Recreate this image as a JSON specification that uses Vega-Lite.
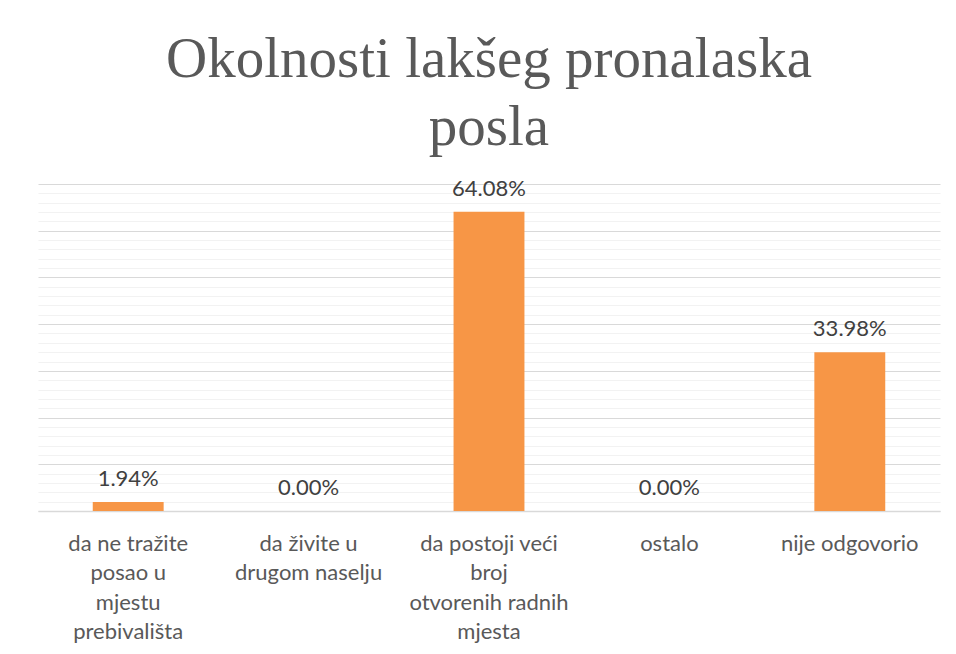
{
  "$schema": "https://vega.github.io/schema/vega-lite/v6.json",
  "width": 902,
  "height": 327,
  "autosize": {"type": "none"},
  "padding": {"left": 38, "top": 184, "right": 16, "bottom": 143},
  "background": "#ffffff",
  "title": {
    "text": ["Okolnosti lakšeg pronalaska", "posla"],
    "font": "Liberation Serif",
    "fontSize": 57,
    "fontWeight": "normal",
    "color": "#595959",
    "lineHeight": 68,
    "anchor": "middle",
    "frame": "group",
    "offset": 21
  },
  "data": {
    "values": [
      {"category": "da ne tražite posao u mjestu prebivališta", "value": 0.0194},
      {"category": "da živite u drugom naselju", "value": 0.0},
      {"category": "da postoji veći broj otvorenih radnih mjesta", "value": 0.6408},
      {"category": "ostalo", "value": 0.0},
      {"category": "nije odgovorio", "value": 0.3398}
    ]
  },
  "encoding": {
    "x": {
      "field": "category",
      "type": "nominal",
      "sort": null,
      "scale": {"paddingInner": 0.607, "paddingOuter": 0.3035},
      "axis": {
        "title": null,
        "labelAngle": 0,
        "labelFont": "Lato",
        "labelFontSize": 22,
        "labelColor": "#595959",
        "labelLineHeight": 29.5,
        "labelPadding": 22,
        "labelBaseline": "top",
        "labelLimit": 0,
        "ticks": false,
        "domain": true,
        "domainColor": "#D9D9D9",
        "domainWidth": 1.3,
        "labelExpr": "datum.value == 'da ne tražite posao u mjestu prebivališta' ? ['da ne tražite','posao u','mjestu','prebivališta'] : datum.value == 'da živite u drugom naselju' ? ['da živite u','drugom naselju'] : datum.value == 'da postoji veći broj otvorenih radnih mjesta' ? ['da postoji veći','broj','otvorenih radnih','mjesta'] : datum.value"
      }
    },
    "y": {
      "field": "value",
      "type": "quantitative",
      "scale": {"domain": [0, 0.7], "nice": false, "zero": true},
      "axis": {
        "title": null,
        "labels": false,
        "ticks": false,
        "domain": false,
        "values": [0, 0.02, 0.04, 0.06, 0.08, 0.1, 0.12, 0.14, 0.16, 0.18, 0.2, 0.22, 0.24, 0.26, 0.28, 0.3, 0.32, 0.34, 0.36, 0.38, 0.4, 0.42, 0.44, 0.46, 0.48, 0.5, 0.52, 0.54, 0.56, 0.58, 0.6, 0.62, 0.64, 0.66, 0.68, 0.7],
        "grid": true,
        "gridWidth": 1.2,
        "gridColor": {"condition": {"test": "abs(datum.value * 100 % 10) < 0.001 || abs(datum.value * 100 % 10 - 10) < 0.001", "value": "#D9D9D9"}, "value": "#F2F2F2"}
      }
    }
  },
  "layer": [
    {"mark": {"type": "bar", "color": "#F79646"}},
    {
      "mark": {"type": "text", "font": "Lato", "fontSize": 22, "color": "#404040", "baseline": "alphabetic", "dy": -16},
      "encoding": {"text": {"field": "value", "type": "quantitative", "format": ".2%"}}
    }
  ],
  "config": {"view": {"stroke": null}}
}
